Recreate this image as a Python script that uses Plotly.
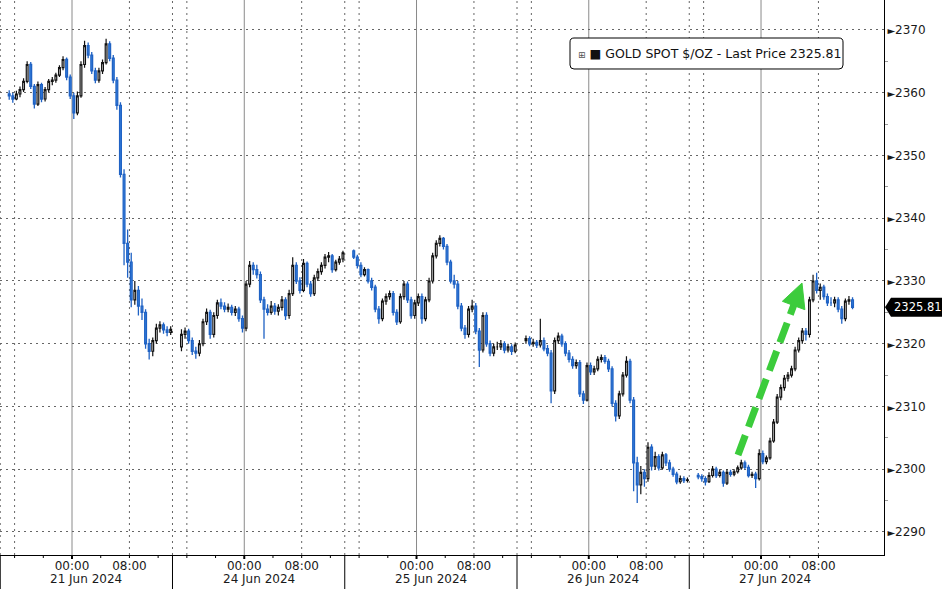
import plotly.graph_objects as go
import pandas as pd

# ---------------- data ----------------
session_first_bar = ["2024-06-20 15:15", "2024-06-23 15:15", "2024-06-24 15:15",
                     "2024-06-25 15:15", "2024-06-26 15:15"]
session_bars = [46, 46, 46, 46, 44]

opens = [
    # 21 Jun session
    2359.8, 2359.5, 2359.0, 2359.8, 2360.5, 2361.8, 2364.5, 2361.0, 2358.2, 2361.3,
    2359.0, 2360.5, 2361.8, 2362.0, 2362.8, 2364.0, 2365.3, 2362.5, 2359.5, 2356.8,
    2359.5, 2364.5, 2367.5, 2366.0, 2363.5, 2362.0, 2363.5, 2364.8, 2367.8, 2365.5,
    2362.0, 2358.0, 2347.0, 2336.0, 2333.0, 2327.0, 2328.5, 2326.0, 2325.0, 2320.0,
    2318.8, 2320.5, 2322.5, 2323.0, 2322.2, 2321.8,
    # 24 Jun session
    2319.5, 2321.5, 2322.0, 2320.5, 2318.8, 2318.5, 2320.0, 2323.5, 2325.0, 2321.5,
    2324.5, 2326.5, 2326.0, 2325.5, 2325.8, 2325.0, 2325.5, 2324.0, 2322.5, 2329.5,
    2332.5, 2331.8, 2331.0, 2327.0, 2325.5, 2325.0, 2326.0, 2325.2, 2325.8, 2327.0,
    2324.5, 2328.0, 2332.5, 2330.0, 2328.5, 2332.8, 2329.5, 2328.0, 2330.5, 2331.5,
    2332.5, 2333.8, 2334.0, 2331.8, 2333.0, 2333.5,
    # 25 Jun session
    2334.8, 2333.8, 2332.5, 2331.0, 2331.8, 2330.0, 2329.0, 2325.5, 2324.0, 2326.8,
    2327.5, 2328.0, 2325.0, 2323.5, 2327.5, 2329.5, 2327.0, 2324.5, 2326.5, 2327.5,
    2324.0, 2327.0, 2330.0, 2334.0, 2336.0, 2336.8, 2335.5, 2333.0, 2330.0, 2329.5,
    2326.0, 2322.5, 2321.5, 2325.5, 2326.0, 2322.0, 2319.0, 2324.5, 2320.0, 2318.5,
    2319.5, 2319.5, 2320.0, 2319.0, 2319.5, 2318.8,
    # 26 Jun session
    2320.5, 2320.8, 2320.0, 2320.2, 2319.8, 2320.5, 2319.2, 2318.5, 2312.5, 2320.5,
    2321.2, 2320.0, 2318.5, 2317.5, 2316.5, 2317.0, 2312.0, 2311.0, 2316.5, 2315.5,
    2316.0, 2317.5, 2317.8, 2317.2, 2316.0, 2310.5, 2308.5, 2312.0, 2315.0, 2317.2,
    2311.0, 2301.0, 2297.5, 2299.5, 2298.5, 2303.5, 2300.5, 2302.0, 2300.2, 2302.3,
    2301.0, 2300.0, 2299.2, 2298.0, 2298.5, 2298.2,
    # 27 Jun session
    2299.0, 2298.8, 2298.5, 2298.0, 2299.0, 2300.0, 2299.0, 2299.5, 2297.8, 2299.5,
    2299.2, 2299.6, 2300.2, 2301.0, 2300.3, 2299.0, 2299.2, 2298.5, 2302.5, 2301.2,
    2301.8, 2304.5, 2307.5, 2311.5, 2313.0, 2314.5, 2315.0, 2316.0, 2319.0, 2320.5,
    2322.0, 2321.5, 2327.0, 2330.0, 2328.5, 2329.0, 2327.5, 2326.5, 2326.5, 2327.0,
    2325.5, 2324.0, 2326.8, 2327.0,
]

highs = [
    2360.4, 2360.0, 2360.3, 2361.0, 2362.3, 2365.0, 2364.9, 2361.4, 2361.8, 2361.6,
    2360.9, 2362.2, 2362.5, 2363.2, 2364.4, 2365.8, 2365.6, 2362.9, 2360.0, 2360.2,
    2365.0, 2368.3, 2368.0, 2366.5, 2364.0, 2364.0, 2365.3, 2368.6, 2368.2, 2366.0,
    2362.5, 2358.5, 2347.8, 2338.2, 2334.5, 2330.0, 2329.2, 2327.2, 2325.5, 2320.8,
    2321.0, 2323.2, 2323.6, 2323.4, 2322.8, 2322.8,
    2322.3, 2322.6, 2322.4, 2321.0, 2319.5, 2320.6, 2324.0, 2325.6, 2325.4, 2325.0,
    2327.0, 2327.2, 2326.6, 2326.4, 2326.2, 2326.0, 2325.9, 2324.5, 2330.0, 2333.2,
    2333.0, 2332.6, 2331.5, 2327.5, 2326.3, 2326.8, 2326.5, 2326.3, 2327.6, 2327.4,
    2328.6, 2333.8, 2333.0, 2330.6, 2333.5, 2333.1, 2330.0, 2331.0, 2332.0, 2333.0,
    2334.3, 2334.6, 2334.3, 2333.4, 2334.0, 2334.8,
    2335.0, 2334.2, 2333.0, 2332.2, 2332.0, 2330.5, 2329.4, 2326.0, 2327.2, 2328.0,
    2328.5, 2328.4, 2325.5, 2328.0, 2330.0, 2329.9, 2327.5, 2327.0, 2328.0, 2328.0,
    2327.5, 2330.5, 2334.5, 2336.5, 2337.3, 2337.0, 2335.9, 2333.4, 2331.0, 2330.0,
    2326.5, 2323.0, 2326.0, 2327.0, 2326.5, 2322.5, 2325.0, 2325.0, 2320.5, 2320.0,
    2320.3, 2320.6, 2320.4, 2320.0, 2319.9, 2320.2,
    2321.3, 2321.2, 2320.8, 2320.6, 2324.0, 2321.0, 2319.8, 2319.0, 2321.0, 2321.8,
    2321.6, 2320.4, 2319.0, 2318.0, 2317.5, 2317.4, 2312.5, 2317.0, 2317.0, 2316.5,
    2318.0, 2318.3, 2318.2, 2317.6, 2316.4, 2311.0, 2312.5, 2315.5, 2318.0, 2317.6,
    2311.5, 2302.0, 2300.5, 2300.0, 2304.3, 2304.0, 2302.8, 2302.4, 2302.8, 2302.6,
    2301.5, 2300.4, 2299.6, 2299.0, 2298.9, 2298.7,
    2299.4, 2299.2, 2298.9, 2299.5, 2300.5, 2300.4, 2300.0, 2299.8, 2300.0, 2299.9,
    2300.0, 2300.6, 2301.5, 2301.4, 2300.7, 2299.6, 2299.6, 2303.2, 2303.0, 2302.2,
    2305.0, 2308.0, 2312.0, 2313.5, 2315.0, 2315.5, 2316.5, 2319.5, 2321.0, 2322.5,
    2322.5, 2327.5, 2331.0, 2331.3, 2329.6, 2329.4, 2328.0, 2327.4, 2327.5, 2327.4,
    2326.0, 2327.2, 2327.6, 2327.4,
]

lows = [
    2358.9, 2358.4, 2358.8, 2359.3, 2360.1, 2361.5, 2360.6, 2357.5, 2357.9, 2358.5,
    2358.6, 2360.1, 2361.2, 2361.6, 2362.5, 2363.6, 2362.0, 2359.0, 2355.8, 2356.4,
    2359.2, 2364.0, 2365.5, 2363.0, 2361.5, 2361.6, 2363.0, 2364.5, 2365.0, 2361.5,
    2357.3, 2346.5, 2332.5, 2330.5, 2325.8, 2326.2, 2324.5, 2323.8, 2319.2, 2317.5,
    2318.0, 2320.0, 2321.8, 2321.6, 2321.2, 2321.4,
    2318.8, 2320.8, 2320.0, 2318.2, 2317.6, 2318.0, 2319.6, 2323.0, 2320.8, 2321.0,
    2324.0, 2325.5, 2325.0, 2325.0, 2324.5, 2324.4, 2323.5, 2321.8, 2322.0, 2329.0,
    2331.0, 2330.4, 2326.5, 2320.8, 2324.5, 2324.6, 2324.6, 2324.5, 2325.3, 2323.8,
    2324.0, 2327.6, 2329.5, 2328.0, 2328.2, 2329.0, 2327.5, 2327.6, 2330.0, 2331.0,
    2332.0, 2333.0, 2331.3, 2331.5, 2332.6, 2333.0,
    2333.5, 2332.0, 2330.6, 2330.7, 2329.6, 2328.5, 2325.0, 2323.2, 2323.6, 2326.2,
    2327.0, 2324.5, 2323.0, 2323.2, 2327.0, 2326.5, 2324.0, 2324.0, 2326.0, 2323.2,
    2323.6, 2326.6, 2329.6, 2333.6, 2335.5, 2335.0, 2332.5, 2329.6, 2328.8, 2325.5,
    2322.0, 2320.8, 2321.0, 2325.0, 2321.5, 2316.3, 2318.6, 2319.5, 2318.0, 2318.0,
    2319.0, 2319.0, 2318.5, 2318.6, 2318.2, 2318.5,
    2320.0, 2319.6, 2319.5, 2319.3, 2319.4, 2318.8, 2318.0, 2310.5, 2312.0, 2320.0,
    2319.5, 2318.0, 2317.0, 2316.0, 2316.0, 2311.5, 2310.4, 2310.8, 2315.0, 2315.0,
    2315.6, 2317.0, 2316.8, 2315.5, 2310.0, 2307.6, 2308.0, 2311.6, 2314.6, 2310.5,
    2296.5, 2294.6, 2296.0, 2297.2, 2298.0, 2299.8, 2300.0, 2299.8, 2299.9, 2300.5,
    2299.6, 2298.8, 2297.6, 2297.7, 2297.8, 2297.9,
    2298.4, 2298.0, 2297.4, 2297.8, 2298.7, 2298.6, 2298.7, 2297.2, 2297.5, 2298.8,
    2298.9, 2299.3, 2299.9, 2300.0, 2298.7, 2298.6, 2297.0, 2298.2, 2300.8, 2300.8,
    2301.5, 2304.2, 2307.2, 2311.0, 2312.5, 2314.0, 2314.6, 2315.6, 2318.6, 2320.0,
    2320.5, 2321.0, 2326.6, 2328.0, 2327.0, 2327.0, 2326.0, 2326.0, 2325.8, 2325.0,
    2323.2, 2323.6, 2326.2, 2325.5,
]

closes = [
    2359.5, 2359.0, 2359.8, 2360.5, 2361.8, 2364.5, 2361.0, 2358.2, 2361.3, 2359.0,
    2360.5, 2361.8, 2362.0, 2362.8, 2364.0, 2365.3, 2362.5, 2359.5, 2356.8, 2359.5,
    2364.5, 2367.5, 2366.0, 2363.5, 2362.0, 2363.5, 2364.8, 2367.8, 2365.5, 2362.0,
    2358.0, 2347.0, 2336.0, 2333.0, 2327.0, 2328.5, 2326.0, 2325.0, 2320.0, 2318.8,
    2320.5, 2322.5, 2323.0, 2322.2, 2321.8, 2322.3,
    2321.5, 2322.0, 2320.5, 2318.8, 2318.5, 2320.0, 2323.5, 2325.0, 2321.5, 2324.5,
    2326.5, 2326.0, 2325.5, 2325.8, 2325.0, 2325.5, 2324.0, 2322.5, 2329.5, 2332.5,
    2331.8, 2331.0, 2327.0, 2325.5, 2325.0, 2326.0, 2325.2, 2325.8, 2327.0, 2324.5,
    2328.0, 2332.5, 2330.0, 2328.5, 2332.8, 2329.5, 2328.0, 2330.5, 2331.5, 2332.5,
    2333.8, 2334.0, 2331.8, 2333.0, 2333.5, 2334.5,
    2333.8, 2332.5, 2331.0, 2331.8, 2330.0, 2329.0, 2325.5, 2324.0, 2326.8, 2327.5,
    2328.0, 2325.0, 2323.5, 2327.5, 2329.5, 2327.0, 2324.5, 2326.5, 2327.5, 2324.0,
    2327.0, 2330.0, 2334.0, 2336.0, 2336.8, 2335.5, 2333.0, 2330.0, 2329.5, 2326.0,
    2322.5, 2321.5, 2325.5, 2326.0, 2322.0, 2319.0, 2324.5, 2320.0, 2318.5, 2319.5,
    2319.5, 2320.0, 2319.0, 2319.5, 2318.8, 2319.8,
    2320.8, 2320.0, 2320.2, 2319.8, 2320.5, 2319.2, 2318.5, 2312.5, 2320.5, 2321.2,
    2320.0, 2318.5, 2317.5, 2316.5, 2317.0, 2312.0, 2311.0, 2316.5, 2315.5, 2316.0,
    2317.5, 2317.8, 2317.2, 2316.0, 2310.5, 2308.5, 2312.0, 2315.0, 2317.2, 2311.0,
    2301.0, 2297.5, 2299.5, 2298.5, 2303.5, 2300.5, 2302.0, 2300.2, 2302.3, 2301.0,
    2300.0, 2299.2, 2298.0, 2298.5, 2298.2, 2298.3,
    2298.8, 2298.5, 2298.0, 2299.0, 2300.0, 2299.0, 2299.5, 2297.8, 2299.5, 2299.2,
    2299.6, 2300.2, 2301.0, 2300.3, 2299.0, 2299.2, 2298.5, 2302.5, 2301.2, 2301.8,
    2304.5, 2307.5, 2311.5, 2313.0, 2314.5, 2315.0, 2316.0, 2319.0, 2320.5, 2322.0,
    2321.5, 2327.0, 2330.0, 2328.5, 2329.0, 2327.5, 2326.5, 2326.5, 2327.0, 2325.5,
    2324.0, 2326.8, 2327.0, 2325.81,
]

last_price = 2325.81
series_name = "GOLD SPOT $/OZ - Last Price"
y_ticks = [2290, 2300, 2310, 2320, 2330, 2340, 2350, 2360, 2370]
day_midnights = ["2024-06-21", "2024-06-24", "2024-06-25", "2024-06-26", "2024-06-27"]
day_labels = ["21 Jun 2024", "24 Jun 2024", "25 Jun 2024", "26 Jun 2024", "27 Jun 2024"]
session_bounds = ["2024-06-20 14:00", "2024-06-23 14:00", "2024-06-24 14:00",
                  "2024-06-25 14:00", "2024-06-26 14:00"]
weekend_break = ["2024-06-21 14:00", "2024-06-23 14:00"]
x_range = ["2024-06-20 13:58", "2024-06-27 17:08"]
y_range = [2286.33, 2374.78]

# ---------------- build ----------------
times = []
for start, n in zip(session_first_bar, session_bars):
    times += list(pd.date_range(start, periods=n, freq="30min"))

FONT = "DejaVu Sans"
W, H = 884.0, 555.0  # plot area in px


def px(x):
    return x / W


def py(y):
    return 1 - y / H


fig = go.Figure()
fig.add_trace(go.Candlestick(
    x=times, open=opens, high=highs, low=lows, close=closes,
    increasing=dict(line=dict(color="#111111", width=1.2), fillcolor="#ffffff"),
    decreasing=dict(line=dict(color="#1f62c4", width=1.3), fillcolor="#3a86e4"),
    whiskerwidth=0, showlegend=False, hoverinfo="skip",
))

shapes = []
midn = pd.to_datetime(day_midnights)
# vertical grid lines
for d in midn:
    shapes.append(dict(type="line", xref="x", yref="paper", x0=d, x1=d, y0=0, y1=1,
                       line=dict(color="#8a8a8a", width=1), layer="below"))
    for hh in (8, -8):
        t = d + pd.Timedelta(hours=hh)
        shapes.append(dict(type="line", xref="x", yref="paper", x0=t, x1=t, y0=0, y1=1,
                           line=dict(color="#666666", width=1, dash="2px,4px"), layer="below"))
for b in session_bounds:
    shapes.append(dict(type="line", xref="x", yref="paper", x0=b, x1=b, y0=0, y1=1,
                       line=dict(color="#666666", width=1, dash="2px,4px"), layer="below"))
    # separators in the time-axis band
    shapes.append(dict(type="line", xref="x", yref="paper", x0=b, x1=b, y0=0, y1=-34 / H,
                       line=dict(color="#000000", width=1)))
# small ticks every 4 hours
for d in midn:
    for hh in (-8, -4, 0, 4, 8, 12):
        t = d + pd.Timedelta(hours=hh)
        if d == midn[-1] and hh > 8:
            continue
        shapes.append(dict(type="line", xref="x", yref="paper", x0=t, x1=t, y0=0,
                           y1=-(4 if hh == 0 else 3) / H,
                           line=dict(color="#000000", width=1 if hh else 2)))


# legend box (rounded)
def rrect(x0, y0, x1, y1, r):
    pts = [("M", x0 + r, y0), ("L", x1 - r, y0), ("Q", x1, y0, x1, y0 + r),
           ("L", x1, y1 - r), ("Q", x1, y1, x1 - r, y1), ("L", x0 + r, y1),
           ("Q", x0, y1, x0, y1 - r), ("L", x0, y0 + r), ("Q", x0, y0, x0 + r, y0)]
    out = []
    for p in pts:
        cmd = p[0]
        coords = p[1:]
        s = cmd + " " + " ".join(
            f"{px(coords[i]):.5f},{py(coords[i + 1]):.5f}" for i in range(0, len(coords), 2))
        out.append(s)
    return " ".join(out) + " Z"


shapes.append(dict(type="path", xref="paper", yref="paper", path=rrect(570, 38, 843, 69, 4),
                   line=dict(color="#000000", width=1), fillcolor="#ffffff"))

# last-price tag on the axis
tag_y = 30 + (2370 - last_price) * (H - 53) / 80.0
tag = [(885, tag_y), (891, tag_y - 9.5), (942, tag_y - 9.5), (942, tag_y + 9.5), (891, tag_y + 9.5)]
shapes.append(dict(type="path", xref="paper", yref="paper",
                   path="M " + " L ".join(f"{px(a):.5f},{py(b):.5f}" for a, b in tag) + " Z",
                   line=dict(color="#000000", width=0), fillcolor="#000000"))

# green dashed arrow
tail = (738, 455)
tip = (802, 283)
ux, uy = tip[0] - tail[0], tip[1] - tail[1]
L = (ux ** 2 + uy ** 2) ** 0.5
ux, uy = ux / L, uy / L
nx, ny = -uy, ux
hl, hw = 24, 12
base = (tip[0] - hl * ux, tip[1] - hl * uy)
shapes.append(dict(type="line", xref="paper", yref="paper",
                   x0=px(tail[0]), y0=py(tail[1]), x1=px(base[0] + 2 * ux), y1=py(base[1] + 2 * uy),
                   line=dict(color="#3ccc3c", width=7, dash="21px,9px")))
head = [tip, (base[0] + hw * nx, base[1] + hw * ny), (base[0] - hw * nx, base[1] - hw * ny)]
shapes.append(dict(type="path", xref="paper", yref="paper",
                   path="M " + " L ".join(f"{px(a):.5f},{py(b):.5f}" for a, b in head) + " Z",
                   line=dict(color="#3ccc3c", width=1), fillcolor="#3ccc3c"))

annotations = []
for d, lab in zip(midn, day_labels):
    annotations.append(dict(x=d + pd.Timedelta(hours=2), y=py(579), xref="x", yref="paper",
                            text=lab, showarrow=False, xanchor="center", yanchor="middle",
                            font=dict(family=FONT, size=12, color="#1a1a1a")))
annotations.append(dict(x=px(576), y=py(53.5), xref="paper", yref="paper", xanchor="left",
                        yanchor="middle", showarrow=False,
                        text="<span style='font-size:9px;color:#555'>⊞</span> ■ " + series_name
                             + f" {last_price:.2f}",
                        font=dict(family=FONT, size=12.5, color="#111111")))
annotations.append(dict(x=px(892), y=last_price, xref="paper", yref="y", xanchor="left",
                        yanchor="middle", showarrow=False, text=f"{last_price:.2f}",
                        font=dict(family=FONT, size=11.5, color="#ffffff")))

tickvals, ticktext = [], []
for d in midn:
    tickvals += [d, d + pd.Timedelta(hours=8)]
    ticktext += ["00:00", "08:00"]

fig.update_layout(
    width=942, height=589,
    margin=dict(l=0, r=58, t=0, b=34),
    paper_bgcolor="#ffffff", plot_bgcolor="#ffffff",
    font=dict(family=FONT, size=12, color="#1a1a1a"),
    shapes=shapes, annotations=annotations,
    showlegend=False,
    xaxis=dict(
        type="date", range=x_range,
        rangebreaks=[dict(bounds=weekend_break)],
        rangeslider=dict(visible=False),
        tickmode="array", tickvals=tickvals, ticktext=ticktext,
        ticks="", showgrid=False, zeroline=False,
        showline=True, linecolor="#000000", linewidth=1,
        tickfont=dict(family=FONT, size=12, color="#1a1a1a"),
    ),
    yaxis=dict(
        side="right", range=y_range,
        tickmode="array", tickvals=y_ticks,
        ticktext=[f"<span style='font-size:10px'>►</span>{v}" for v in y_ticks],
        ticks="", showgrid=True, gridcolor="#666666", griddash="2px,4px", gridwidth=1,
        zeroline=False, showline=True, linecolor="#000000", linewidth=1,
        tickfont=dict(family=FONT, size=12, color="#1a1a1a"),
        ticklabelstandoff=0,
        minor=dict(tickvals=[2295, 2305, 2315, 2325, 2335, 2345, 2355, 2365],
                   ticks="outside", ticklen=3, tickcolor="#999999", showgrid=False),
    ),
)

fig.write_html("out.html", config={"displayModeBar": False},
               post_script="document.body.style.margin='0px';document.body.style.overflow='hidden';")
